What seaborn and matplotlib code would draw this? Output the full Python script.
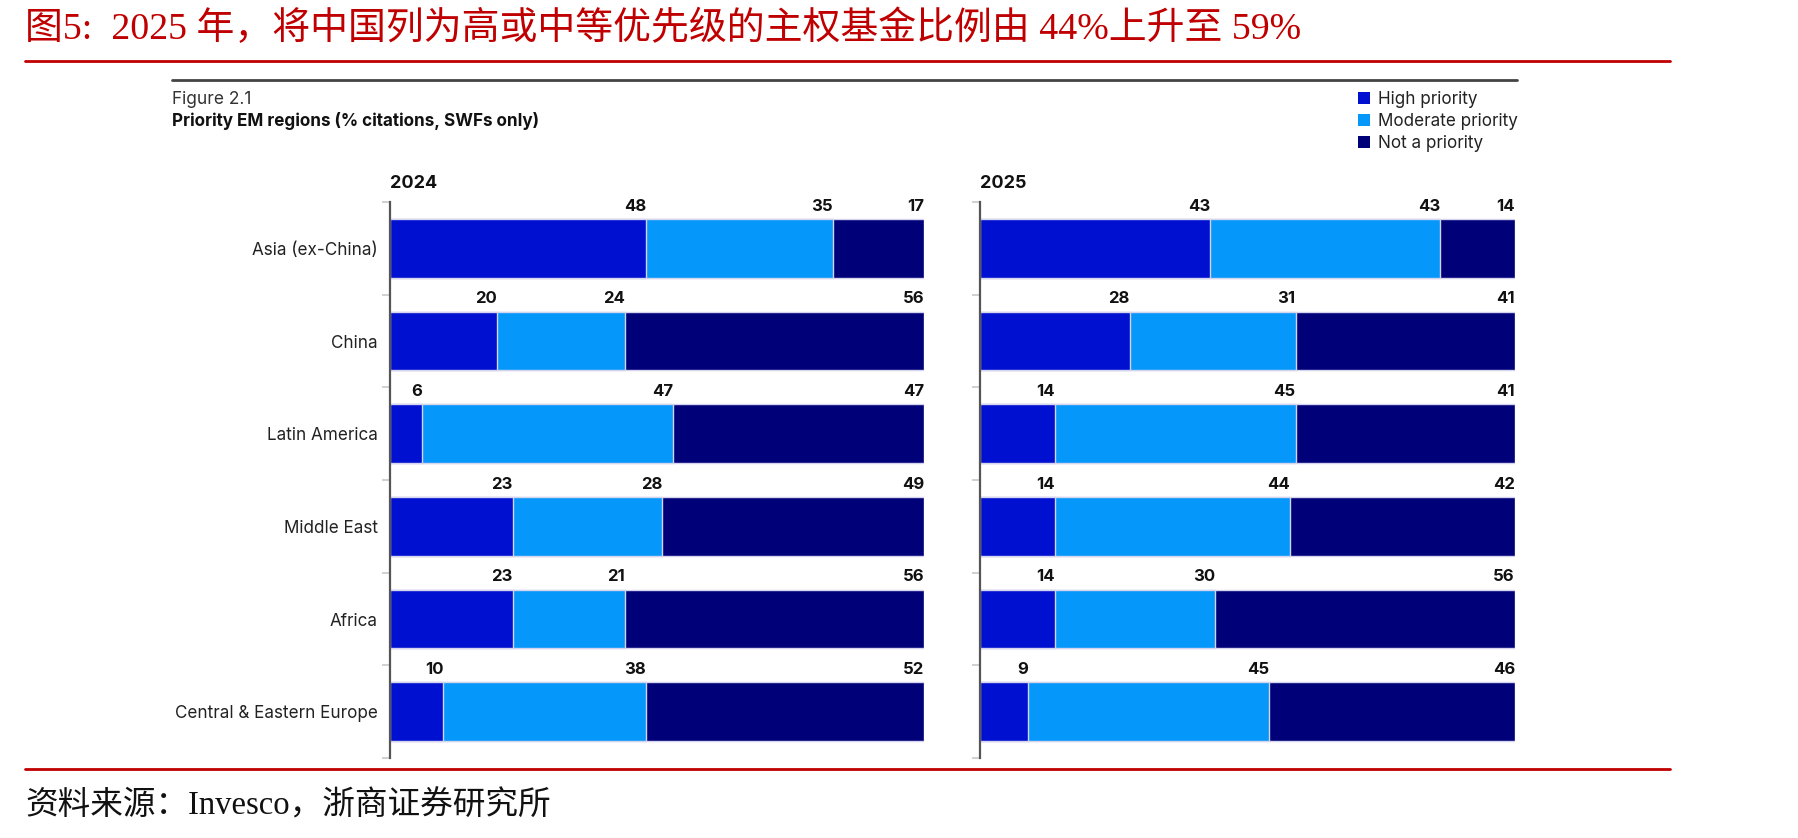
import matplotlib
matplotlib.use("Agg")
import matplotlib.pyplot as plt
from matplotlib.lines import Line2D
from matplotlib.patches import Patch
import seaborn as sns
import pandas as pd

regions = ["Asia (ex-China)", "China", "Latin America", "Middle East", "Africa",
           "Central & Eastern Europe"]
high_2024 = [48, 20, 6, 23, 23, 10]
moderate_2024 = [35, 24, 47, 28, 21, 38]
not_2024 = [17, 56, 47, 49, 56, 52]
high_2025 = [43, 28, 14, 14, 14, 9]
moderate_2025 = [43, 31, 45, 44, 30, 45]
not_2025 = [14, 41, 41, 42, 56, 46]

series_names = ["High priority", "Moderate priority", "Not a priority"]
colors = ["#0010d0", "#0598fa", "#000078"]

sns.set_theme(style="white")
plt.rcParams["font.family"] = ["Inter", "DejaVu Sans"]

W, H = 1798, 838
fig = plt.figure(figsize=(W / 100, H / 100), dpi=100)


def fx(px):
    return px / W


def fy(py):
    return 1 - py / H


def draw_panel(ax, year, high, moderate, notp):
    df = pd.DataFrame({"region": regions, "high": high, "moderate": moderate, "not": notp})
    df["c1"] = df["high"]
    df["c2"] = df["high"] + df["moderate"]
    df["c3"] = df["c2"] + df["not"]
    # draw back to front so the stacked segments show
    for col, color in zip(["c3", "c2", "c1"], colors[::-1]):
        sns.barplot(data=df, x=col, y="region", orient="h", color=color, ax=ax,
                    width=0.63, edgecolor="#d4d4ee", linewidth=1.0, saturation=1)
    for i, row in df.iterrows():
        for val, end in [(row["high"], row["c1"]), (row["moderate"], row["c2"]),
                         (row["not"], row["c3"])]:
            ax.annotate(f"{val}", xy=(end, i - 0.315), xytext=(0, 4),
                        textcoords="offset points", ha="right", va="bottom",
                        fontsize=12, fontweight="bold", color="#111111")
    ax.set_xlim(0, 100)
    ax.set_ylim(5.5, -0.5)
    ax.set_xlabel("")
    ax.set_ylabel("")
    ax.set_xticks([])
    for s in ["top", "right", "bottom"]:
        ax.spines[s].set_visible(False)
    ax.spines["left"].set_color("#555555")
    ax.spines["left"].set_linewidth(1.6)
    ax.set_yticks([y - 0.5 for y in range(7)], minor=True)
    ax.tick_params(axis="y", which="minor", left=True, length=6, width=1.2,
                   color="#c8c8c8")
    ax.tick_params(axis="y", which="major", left=False, length=0, pad=9)
    ax.text(0, 1.034, year, transform=ax.transAxes, ha="left", va="center",
            fontsize=13, fontweight="bold", color="#111111")


ax1 = fig.add_axes([fx(390), fy(758), fx(924 - 390), (758 - 202) / H])
ax2 = fig.add_axes([fx(980), fy(758), fx(1515 - 980), (758 - 202) / H])
draw_panel(ax1, "2024", high_2024, moderate_2024, not_2024)
draw_panel(ax2, "2025", high_2025, moderate_2025, not_2025)
ax1.tick_params(axis="y", labelsize=12.3, labelcolor="#222222")
ax2.set_yticklabels([])

# header lines and titles
fig.add_artist(Line2D([fx(25), fx(1670)], [fy(61), fy(61)], color="#c00000", lw=2))
fig.add_artist(Line2D([fx(25), fx(1670)], [fy(769), fy(769)], color="#c00000", lw=2))
fig.add_artist(Line2D([fx(172), fx(1517)], [fy(80), fy(80)], color="#444444", lw=2))

fig.text(fx(25), fy(29), "图5:  2025 年，将中国列为高或中等优先级的主权基金比例由 44%上升至 59%",
         ha="left", va="center", fontsize=27.3, color="#c00000",
         family=["Liberation Serif", "Noto Sans CJK SC"])
fig.text(fx(25), fy(806), "资料来源：Invesco，浙商证券研究所", ha="left", va="center",
         fontsize=23.5, color="#111111", family=["Liberation Serif", "Noto Sans CJK SC"])
fig.text(fx(172), fy(99), "Figure 2.1", ha="left", va="center", fontsize=12.5,
         color="#333333")
fig.text(fx(172), fy(121), "Priority EM regions (% citations, SWFs only)", ha="left",
         va="center", fontsize=12.3, fontweight="bold", color="#111111")

handles = [Patch(facecolor=c, edgecolor="none") for c in colors]
fig.legend(handles, series_names, loc="upper left", bbox_to_anchor=(fx(1358), fy(91)),
           frameon=False, fontsize=12.3, handlelength=0.72, handleheight=0.72,
           handletextpad=0.45, labelspacing=0.28, borderpad=0, borderaxespad=0,
           labelcolor="#222222")

fig.savefig("out.png", dpi=100)
